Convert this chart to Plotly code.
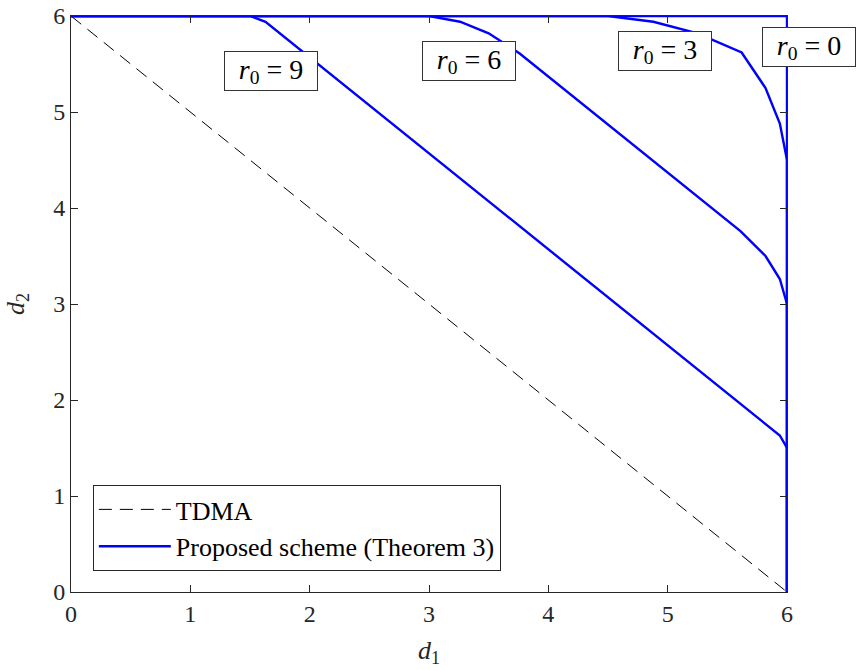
import plotly.graph_objects as go

# TDMA line
tdma_x = [0, 6]
tdma_y = [6, 0]

# Proposed scheme curves (Theorem 3) for several r0
r0_labels = ["0", "3", "6", "9"]
curve_x = {
    "0": [0, 6, 6],
    "3": [0, 4.5, 4.88, 5.25, 5.62, 5.82, 5.94, 6, 6],
    "6": [0, 3.0, 3.26, 3.5, 3.76, 5.61, 5.82, 5.94, 6, 6],
    "9": [0, 1.5, 1.63, 5.94, 6, 6],
}
curve_y = {
    "0": [6, 6, 0],
    "3": [6, 6, 5.94, 5.82, 5.62, 5.25, 4.88, 4.5, 0],
    "6": [6, 6, 5.94, 5.82, 5.61, 3.76, 3.5, 3.26, 3.0, 0],
    "9": [6, 6, 5.94, 1.63, 1.5, 0],
}
# label box left edges / vertical centres (data units)
label_x = {"0": 5.794, "3": 4.585, "6": 2.941, "9": 1.286}
label_y = {"0": 5.677, "3": 5.637, "6": 5.534, "9": 5.43}

x_ticks = [0, 1, 2, 3, 4, 5, 6]
y_ticks = [0, 1, 2, 3, 4, 5, 6]

FONT = "Liberation Serif, Times New Roman, serif"
BLUE = "#0000ff"
AX = "#262626"

fig = go.Figure()
fig.add_trace(go.Scatter(
    x=tdma_x, y=tdma_y, mode="lines", name="TDMA",
    line=dict(color="black", width=1, dash="13px,8px"),
))
for i, r in enumerate(r0_labels):
    fig.add_trace(go.Scatter(
        x=curve_x[r], y=curve_y[r], mode="lines",
        name="Proposed scheme (Theorem 3)",
        showlegend=(i == 0), cliponaxis=False,
        line=dict(color=BLUE, width=2.4),
    ))

for r in r0_labels:
    fig.add_annotation(
        x=label_x[r], y=label_y[r], xref="x", yref="y",
        text=f"<i>r</i><sub>0</sub> = {r}", showarrow=False,
        xanchor="left", yanchor="middle",
        width=86, height=32, align="center", valign="middle",
        font=dict(family=FONT, size=28, color="black"),
        bgcolor="white", bordercolor="#333333", borderwidth=1, borderpad=3,
    )

fig.add_annotation(x=0.5, y=0, xref="paper", yref="paper", yshift=-60,
                   xanchor="center", yanchor="middle", showarrow=False,
                   text="<i>d</i><sub>1</sub>",
                   font=dict(family=FONT, size=26, color=AX))
fig.add_annotation(x=0, y=0.5, xref="paper", yref="paper", xshift=-54,
                   xanchor="center", yanchor="middle", showarrow=False,
                   textangle=-90, text="<i>d</i><sub>2</sub>",
                   font=dict(family=FONT, size=26, color=AX))

axis_common = dict(
    showgrid=False, zeroline=False, showline=True, linecolor=AX,
    linewidth=1, mirror="ticks", ticks="inside", ticklen=7, tickcolor=AX,
    tickfont=dict(family=FONT, size=24, color=AX), automargin=False,
)
fig.update_xaxes(range=[0, 6], tickvals=x_ticks, **axis_common)
fig.update_yaxes(range=[0, 6], tickvals=y_ticks, **axis_common)

fig.update_layout(
    width=856, height=670,
    margin=dict(l=71, r=69, t=16, b=78, autoexpand=False),
    plot_bgcolor="white", paper_bgcolor="white",
    font=dict(family=FONT, size=24, color="black"),
    legend=dict(x=0.0305, y=0.0365, xanchor="left", yanchor="bottom",
                bordercolor=AX, borderwidth=1, bgcolor="white",
                itemwidth=72,
                font=dict(family=FONT, size=26, color="black"),
                tracegroupgap=0),
)

fig.write_html("out.html", config={"displayModeBar": False},
               post_script="document.body.style.margin='0px';")
